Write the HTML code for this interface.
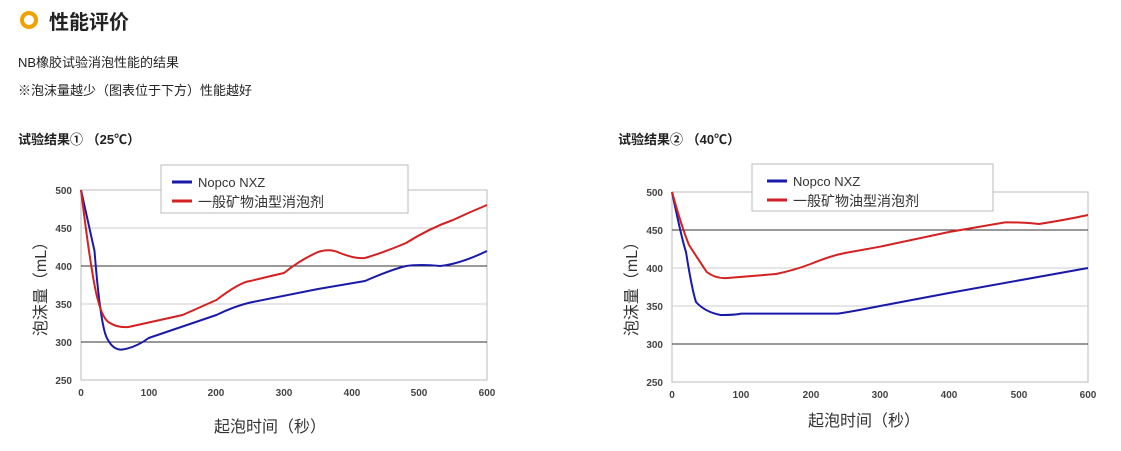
<!DOCTYPE html><html><head><meta charset="utf-8"><style>
body{margin:0;width:1121px;height:451px;background:#fff;font-family:"Liberation Sans","Noto Sans CJK SC",sans-serif;color:#222;position:relative;overflow:hidden}
.a{position:absolute;white-space:nowrap}
</style></head><body>
<div class="a" style="left:20px;top:11px;width:10px;height:10px;border:4px solid #f0a000;border-radius:50%"></div>
<div class="a" style="left:49px;top:6px;font-size:20px;font-weight:bold">性能评价</div>
<div class="a" style="left:18px;top:52px;font-size:13px">NB橡胶试验消泡性能的结果</div>
<div class="a" style="left:18px;top:80px;font-size:13px">※泡沫量越少（图表位于下方）性能越好</div>
<div class="a" style="left:18px;top:129px;font-size:13px;font-weight:bold">试验结果① （25℃）</div>
<div class="a" style="left:618px;top:129px;font-size:13px;font-weight:bold">试验结果② （40℃）</div>
<svg class="a" style="left:0;top:0" width="1121" height="451" font-family="Liberation Sans,Noto Sans CJK SC,sans-serif">
<g font-size="10" font-weight="bold" fill="#444" text-anchor="end">
<rect x="81" y="190" width="406" height="190" fill="none" stroke="#bbb"/>
<line x1="81" x2="487" y1="228" y2="228" stroke="#ccc"/>
<line x1="81" x2="487" y1="266" y2="266" stroke="#333"/>
<line x1="81" x2="487" y1="304" y2="304" stroke="#ccc"/>
<line x1="81" x2="487" y1="342" y2="342" stroke="#333"/>
<text x="72" y="194">500</text><text x="72" y="232">450</text><text x="72" y="270">400</text><text x="72" y="308">350</text><text x="72" y="346">300</text><text x="72" y="384">250</text>
<g text-anchor="middle"><text x="81" y="396">0</text><text x="149" y="396">100</text><text x="216" y="396">200</text><text x="284" y="396">300</text><text x="352" y="396">400</text><text x="419" y="396">500</text><text x="487" y="396">600</text></g>
<rect x="672" y="192" width="416" height="190" fill="none" stroke="#bbb"/>
<line x1="672" x2="1088" y1="230" y2="230" stroke="#333"/>
<line x1="672" x2="1088" y1="268" y2="268" stroke="#ccc"/>
<line x1="672" x2="1088" y1="306" y2="306" stroke="#ccc"/>
<line x1="672" x2="1088" y1="344" y2="344" stroke="#333"/>
<text x="663" y="196">500</text><text x="663" y="234">450</text><text x="663" y="272">400</text><text x="663" y="310">350</text><text x="663" y="348">300</text><text x="663" y="386">250</text>
<g text-anchor="middle"><text x="672" y="398">0</text><text x="741" y="398">100</text><text x="811" y="398">200</text><text x="880" y="398">300</text><text x="949" y="398">400</text><text x="1019" y="398">500</text><text x="1088" y="398">600</text></g>
</g>
<g fill="none" stroke-width="2" stroke-linejoin="round">
<path stroke="#1a1aaa" d="M81,190 L94.5,251 Q100,320 106,336 Q112,350 121.6,349.6 Q135,348 148.7,338 L216.4,315 Q235,306 250.3,302.5 L318,289 L365,281 Q390,270 406,266 Q420,264 440,266 Q460,264 487,251"/>
<path stroke="#d42020" d="M81,190 Q92,280 97.9,300 Q103,320 110,323 Q118,328 128.4,327 L182.6,315 Q205,305 216.4,300 Q240,282 250.3,281 Q275,275 284,273 Q300,260 318,252 Q330,248 340,253 Q355,259 365,258 Q385,252 406,243 Q430,228 453,220 Q470,212 487,205"/>
<path stroke="#1a1aaa" d="M672,192 Q682,240 686,252 Q692,290 696,302 Q705,312 720.5,315 Q735,315 741,313.6 L838,313.6 Q850,312 880,306 L949,293 L1088,268"/>
<path stroke="#d42020" d="M672,192 Q682,228 689,245 Q700,262 706.7,272 Q716,279 727.4,278 L776,274 Q795,270 810.6,264 Q830,256 845,253 L880,246.7 L949,232 L1005,222.4 Q1020,222 1039,224 Q1065,220 1088,215"/>
</g>
<rect x="161" y="165" width="247" height="48" fill="#fff" stroke="#bbb"/>
<line x1="172" x2="192" y1="182" y2="182" stroke="#1a1aaa" stroke-width="3"/>
<line x1="172" x2="192" y1="201" y2="201" stroke="#d42020" stroke-width="3"/>
<text x="198" y="187" font-size="13" fill="#333">Nopco NXZ</text>
<text x="198" y="207" font-size="14" fill="#333">一般矿物油型消泡剂</text>
<rect x="752" y="164" width="241" height="47" fill="#fff" stroke="#bbb"/>
<line x1="767" x2="787" y1="181" y2="181" stroke="#1a1aaa" stroke-width="3"/>
<line x1="767" x2="787" y1="200" y2="200" stroke="#d42020" stroke-width="3"/>
<text x="793" y="186" font-size="13" fill="#333">Nopco NXZ</text>
<text x="793" y="206" font-size="14" fill="#333">一般矿物油型消泡剂</text>
<text font-size="16" fill="#333" text-anchor="middle" transform="translate(46,285) rotate(-90)">泡沫量（mL）</text>
<text font-size="16" fill="#333" text-anchor="middle" transform="translate(637,285) rotate(-90)">泡沫量（mL）</text>
<text x="270" y="432" font-size="16" fill="#333" text-anchor="middle">起泡时间（秒）</text>
<text x="864" y="426" font-size="16" fill="#333" text-anchor="middle">起泡时间（秒）</text>
</svg>
</body></html>
